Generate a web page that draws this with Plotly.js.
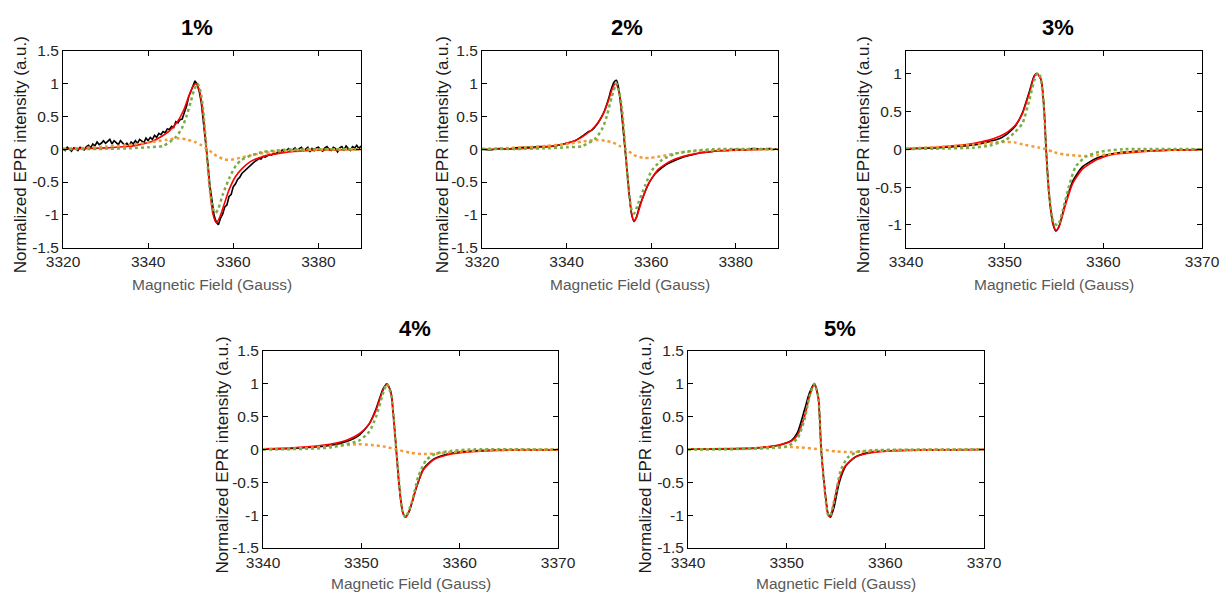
<!DOCTYPE html>
<html>
<head>
<meta charset="utf-8">
<script src="https://cdn.plot.ly/plotly-3.0.1.min.js"></script>
<style>html,body{margin:0;padding:0;background:#fff;}#chart{width:1221px;height:592px;}</style>
</head>
<body>
<div id="chart"></div>
<script>
// ---------- DATA ----------
const panelTitles = ['1%', '2%', '3%', '4%', '5%'];
const yTickVals = [-1.5, -1, -0.5, 0, 0.5, 1, 1.5];
const yTickText = ['-1.5', '-1', '-0.5', '0', '0.5', '1', '1.5'];
const xTickValsWide = [3320, 3340, 3360, 3380];
const xTickValsNarrow = [3340, 3350, 3360, 3370];
const xTitle = 'Magnetic Field (Gauss)';
const yTitle = 'Normalized EPR intensity (a.u.)';

// Panel 1 (1%) experimental, sampled every 0.5 G from 3320 G
const p1BlackStart = 3320, p1BlackStep = 0.5;
const p1BlackY = [
  0.01,-0.02,0.03,0.00,-0.03,0.02,0.01,-0.02,0.03,0.01,
  -0.01,0.04,0.06,0.02,0.08,0.05,0.11,0.07,0.09,0.13,
  0.09,0.12,0.15,0.08,0.13,0.10,0.07,0.13,0.10,0.06,
  0.09,0.05,0.11,0.08,0.13,0.09,0.15,0.12,0.10,0.17,
  0.13,0.18,0.15,0.21,0.18,0.24,0.22,0.27,0.25,0.31,
  0.30,0.35,0.33,0.42,0.40,0.45,0.46,0.56,0.65,0.79,
  0.87,0.97,1.04,0.99,0.88,0.70,0.42,0.10,-0.20,-0.55,
  -0.82,-1.01,-1.11,-1.15,-1.05,-0.99,-0.88,-0.85,-0.72,-0.69,
  -0.57,-0.53,-0.46,-0.43,-0.37,-0.34,-0.30,-0.27,-0.24,-0.22,
  -0.19,-0.17,-0.14,-0.15,-0.11,-0.12,-0.10,-0.08,-0.09,-0.06,
  -0.07,-0.04,-0.05,-0.01,-0.04,-0.02,0.01,-0.03,-0.01,0.02,
  -0.03,0.01,0.03,-0.02,0.00,0.03,-0.04,0.01,-0.02,0.02,
  0.03,-0.01,-0.03,0.02,0.04,0.00,-0.02,0.03,0.01,-0.04,
  0.02,0.04,-0.01,0.05,0.01,-0.02,0.04,0.02,0.06,0.01,
  0.05];
const p1RedX = [3320,3325,3330,3335,3338,3341,3343,3345,3347,3348.5,3349.5,3350.5,3351.3,3352,3352.8,3353.7,3354.4,3355.2,3356,3356.8,3357.8,3359,3360.5,3362,3364,3367,3371,3375,3380,3390];
const p1RedY = [0.00,0.01,0.02,0.04,0.07,0.12,0.19,0.28,0.43,0.62,0.80,0.95,1.00,0.90,0.60,0.00,-0.55,-0.98,-1.12,-1.04,-0.85,-0.62,-0.42,-0.30,-0.19,-0.11,-0.06,-0.03,-0.015,-0.005];
const p1GreenX = [3320,3330,3336,3340,3343.5,3346.6,3348,3349,3350,3350.8,3351.6,3352.3,3352.9,3353.7,3354.5,3355.2,3355.8,3356.4,3357.6,3359.2,3360.7,3362,3364,3367,3372,3380,3390];
const p1GreenY = [0.0,0.005,0.015,0.03,0.05,0.19,0.33,0.5,0.72,0.9,1.0,0.88,0.62,0.0,-0.62,-0.90,-0.97,-0.92,-0.68,-0.42,-0.24,-0.16,-0.10,-0.04,-0.01,0,0];
const p1OrangeX = [3320,3325,3330,3335,3340,3344,3347,3349,3351,3352.5,3354,3356,3358,3359.5,3361,3363,3366,3370,3375,3380,3390];
const p1OrangeY = [0.01,0.02,0.04,0.06,0.10,0.14,0.165,0.15,0.11,0.06,0.0,-0.10,-0.155,-0.16,-0.14,-0.11,-0.07,-0.035,-0.015,-0.005,0];

// Panel 2 (2%)
const p2BlackX = [3320,3322,3324,3326,3328,3330,3332,3334,3336,3338,3340,3342,3344,3345,3346,3347,3348,3349,3349.8,3350.5,3351.2,3351.8,3352.4,3353,3353.6,3354.2,3354.8,3355.4,3356,3356.6,3357.3,3358,3359,3360,3361,3362,3363,3364,3366,3368,3370,3372,3374,3376,3378,3380,3382,3384,3386,3388,3390];
const p2BlackY = [0.0,-0.01,0.01,0.0,0.02,0.03,0.03,0.04,0.04,0.06,0.09,0.13,0.21,0.26,0.29,0.36,0.46,0.59,0.74,0.90,1.02,1.05,0.90,0.55,0.15,-0.25,-0.68,-1.0,-1.1,-1.02,-0.86,-0.74,-0.58,-0.46,-0.37,-0.31,-0.26,-0.22,-0.16,-0.11,-0.08,-0.05,-0.04,-0.02,-0.02,0.0,-0.01,0.01,0.0,0.01,0.0];
const p2RedX = [3320,3328,3334,3338,3340,3342,3344,3346,3347.5,3349,3350,3350.8,3351.6,3352.3,3353.1,3353.9,3354.7,3355.4,3355.9,3356.6,3357.8,3359.4,3361.8,3364.9,3368.9,3375,3383,3390];
const p2RedY = [0,0.005,0.03,0.06,0.09,0.13,0.20,0.30,0.41,0.58,0.76,0.92,1.0,0.90,0.55,-0.01,-0.62,-0.98,-1.1,-1.03,-0.78,-0.52,-0.30,-0.17,-0.09,-0.03,-0.01,0];
const p2GreenX = [3320,3330,3336,3340,3343.6,3346.8,3348.5,3349.5,3350.7,3351.8,3352.5,3353.1,3353.9,3354.7,3355.4,3356,3356.9,3358.6,3360.2,3362.6,3365.7,3368.9,3375,3390];
const p2GreenY = [0,0.005,0.015,0.03,0.045,0.16,0.32,0.5,0.8,1.0,0.85,0.62,0,-0.62,-0.93,-0.98,-0.83,-0.55,-0.32,-0.16,-0.07,-0.03,0,0];
const p2OrangeX = [3320,3325,3330,3335,3340,3344,3347,3349,3351,3352.5,3354,3356,3358,3359.5,3361,3363,3366,3370,3375,3380,3390];
const p2OrangeY = [0.005,0.015,0.03,0.05,0.08,0.12,0.14,0.13,0.1,0.05,0,-0.09,-0.13,-0.135,-0.12,-0.1,-0.06,-0.03,-0.012,-0.004,0];

// Panel 3 (3%)
const p3BlackX = [3340,3343.4,3346.8,3348.4,3349.5,3350.1,3350.6,3351.1,3351.8,3352.5,3353,3353.3,3353.7,3354,3354.2,3354.5,3354.9,3355.2,3355.5,3356.2,3356.9,3357.9,3359.3,3360.9,3363.6,3367,3370];
const p3BlackY = [0.005,0.02,0.055,0.1,0.14,0.185,0.24,0.31,0.48,0.76,0.97,1.0,0.91,0.52,0.0,-0.6,-0.99,-1.08,-1.02,-0.69,-0.42,-0.23,-0.12,-0.06,-0.025,-0.01,-0.003];
const p3RedX = [3340,3343.4,3346.8,3348.4,3349.5,3350.1,3350.6,3351.1,3351.8,3352.5,3353,3353.3,3353.7,3354,3354.2,3354.5,3354.9,3355.2,3355.5,3356.2,3356.9,3357.9,3359.3,3360.9,3363.6,3367,3370];
const p3RedY = [0.01,0.03,0.075,0.12,0.17,0.21,0.26,0.32,0.47,0.74,0.96,1.0,0.91,0.52,0.0,-0.59,-0.98,-1.07,-1.03,-0.72,-0.45,-0.26,-0.14,-0.07,-0.035,-0.013,-0.005];
const p3GreenX = [3340,3343.4,3346.8,3348.5,3350.1,3351,3351.8,3352.5,3353.2,3353.5,3353.9,3354.2,3354.5,3355,3355.4,3355.9,3356.6,3357.2,3358.2,3359.6,3362,3370];
const p3GreenY = [0.003,0.008,0.02,0.05,0.12,0.22,0.34,0.65,0.98,1.0,0.69,0,-0.59,-0.98,-1.0,-0.8,-0.45,-0.23,-0.1,-0.035,0,0];
const p3OrangeX = [3340,3343.4,3346.8,3349,3350,3351,3351.8,3353.5,3354.2,3355,3356,3357.2,3358.2,3359.4,3360.3,3362,3365.3,3370];
const p3OrangeY = [0.01,0.03,0.06,0.09,0.095,0.09,0.065,0.02,0,-0.04,-0.07,-0.085,-0.09,-0.08,-0.07,-0.04,-0.013,0];

// Panel 4 (4%)
const p4BlackX = [3340,3343.4,3346.8,3348.5,3349.8,3350.8,3351.5,3352.2,3352.6,3353,3353.3,3353.55,3353.85,3354.2,3354.5,3354.9,3355.6,3356.3,3357.3,3358.6,3360.3,3363.7,3370];
const p4BlackY = [0.005,0.02,0.06,0.12,0.22,0.39,0.62,0.92,1.0,0.88,0.45,0,-0.55,-0.95,-1.03,-0.93,-0.58,-0.30,-0.15,-0.075,-0.035,-0.01,-0.003];
const p4RedX = [3340,3343.4,3346.8,3348.5,3349.8,3350.8,3351.5,3352.2,3352.6,3353,3353.3,3353.55,3353.85,3354.2,3354.5,3354.9,3355.6,3356.3,3357.3,3358.6,3360.3,3363.7,3370];
const p4RedY = [0.01,0.03,0.08,0.14,0.24,0.39,0.6,0.9,1.0,0.88,0.45,0,-0.55,-0.95,-1.03,-0.92,-0.57,-0.31,-0.16,-0.086,-0.045,-0.015,-0.005];
const p4GreenX = [3340,3346.8,3349.8,3350.8,3351.5,3352.2,3352.6,3353.05,3353.55,3354.2,3354.5,3355.1,3355.8,3356.6,3357.6,3359,3361,3370];
const p4GreenY = [0.0,0.03,0.14,0.27,0.5,0.85,1.0,0.82,0,-0.95,-1.03,-0.82,-0.41,-0.16,-0.06,-0.025,0,0];
const p4OrangeX = [3340,3344,3347,3349.5,3351,3352.5,3353.6,3355,3356.4,3358,3360,3363,3370];
const p4OrangeY = [0.005,0.02,0.05,0.08,0.07,0.04,0,-0.05,-0.07,-0.055,-0.03,-0.01,0];

// Panel 5 (5%)
const p5BlackX = [3340,3346.8,3349.1,3350.5,3351.1,3351.8,3352.3,3352.8,3353.2,3353.5,3353.9,3354.2,3354.45,3354.8,3355.3,3356,3357,3358.6,3360.9,3370];
const p5BlackY = [0.003,0.02,0.06,0.14,0.26,0.6,0.86,1.0,0.8,0,-0.65,-0.98,-1.03,-0.88,-0.52,-0.25,-0.11,-0.04,-0.015,0];
const p5RedX = [3340,3346.8,3349.1,3350.5,3351.1,3351.8,3352.3,3352.8,3353.2,3353.5,3353.9,3354.2,3354.4,3354.7,3355.2,3355.9,3356.9,3358.6,3360.9,3370];
const p5RedY = [0.005,0.025,0.065,0.13,0.22,0.5,0.8,1.0,0.8,0,-0.67,-1.0,-1.02,-0.87,-0.52,-0.26,-0.12,-0.05,-0.02,0];
const p5GreenX = [3340,3346,3350.1,3351.1,3351.8,3352.3,3352.8,3353.2,3353.5,3354.2,3354.4,3354.9,3355.5,3356.2,3357.2,3358.9,3370];
const p5GreenY = [0,0.01,0.05,0.17,0.45,0.8,1.0,0.8,0,-1.0,-1.02,-0.72,-0.31,-0.12,-0.035,-0.01,0];
const p5OrangeX = [3340,3345,3348,3350,3351.5,3353.5,3355,3356.4,3358,3361,3370];
const p5OrangeY = [0.003,0.01,0.03,0.04,0.03,0,-0.03,-0.04,-0.03,-0.01,0];

// ---------- LAYOUT (pixel geometry) ----------
const W = 1221, H = 592;
const panels = [
  {l: 63,  r: 361,  t: 50.7, b: 247.7, tx: 197,  ty: 27,  ytx: 20,  xty: 284, xr: [3320, 3390], xt: xTickValsWide,   yr: [-1.5, 1.5]},
  {l: 482, r: 778,  t: 50.7, b: 247.7, tx: 627,  ty: 27,  ytx: 442, xty: 284, xr: [3320, 3390], xt: xTickValsWide,   yr: [-1.5, 1.5]},
  {l: 906, r: 1202, t: 50.7, b: 247.7, tx: 1058, ty: 27,  ytx: 863, xty: 284, xr: [3340, 3370], xt: xTickValsNarrow, yr: [-1.3, 1.3]},
  {l: 263, r: 558,  t: 351,  b: 548,   tx: 415,  ty: 328, ytx: 222, xty: 583, xr: [3340, 3370], xt: xTickValsNarrow, yr: [-1.5, 1.5]},
  {l: 688, r: 984,  t: 351,  b: 548,   tx: 840,  ty: 328, ytx: 645, xty: 583, xr: [3340, 3370], xt: xTickValsNarrow, yr: [-1.5, 1.5]}
];

const series = [
  {black: {x0: p1BlackStart, dx: p1BlackStep, y: p1BlackY}, red: [p1RedX, p1RedY], green: [p1GreenX, p1GreenY], orange: [p1OrangeX, p1OrangeY]},
  {black: {x: p2BlackX, y: p2BlackY}, red: [p2RedX, p2RedY], green: [p2GreenX, p2GreenY], orange: [p2OrangeX, p2OrangeY]},
  {black: {x: p3BlackX, y: p3BlackY}, red: [p3RedX, p3RedY], green: [p3GreenX, p3GreenY], orange: [p3OrangeX, p3OrangeY]},
  {black: {x: p4BlackX, y: p4BlackY}, red: [p4RedX, p4RedY], green: [p4GreenX, p4GreenY], orange: [p4OrangeX, p4OrangeY]},
  {black: {x: p5BlackX, y: p5BlackY}, red: [p5RedX, p5RedY], green: [p5GreenX, p5GreenY], orange: [p5OrangeX, p5OrangeY]}
];

const FONT = '"Liberation Sans", Arial, sans-serif';
const traces = [];
const layout = {
  width: W, height: H,
  margin: {l: 0, r: 0, t: 0, b: 0, pad: 0},
  paper_bgcolor: '#ffffff', plot_bgcolor: '#ffffff',
  showlegend: false,
  font: {family: FONT, color: '#262626'},
  annotations: []
};

panels.forEach((p, i) => {
  const n = i === 0 ? '' : String(i + 1);
  const xa = 'x' + n, ya = 'y' + n;
  const s = series[i];
  const smooth = (i === 0) ? 'linear' : 'spline';
  const blk = Object.assign({type: 'scatter', mode: 'lines', xaxis: xa, yaxis: ya,
    line: {color: '#000000', width: 1.6, shape: smooth, smoothing: 0.6}, hoverinfo: 'skip'}, s.black);
  traces.push(blk);
  traces.push({type: 'scatter', mode: 'lines', x: s.red[0], y: s.red[1], xaxis: xa, yaxis: ya,
    line: {color: '#ff0000', width: 1.6, shape: 'spline', smoothing: 0.6}, hoverinfo: 'skip'});
  traces.push({type: 'scatter', mode: 'lines', x: s.orange[0], y: s.orange[1], xaxis: xa, yaxis: ya,
    line: {color: '#f39b36', width: 2.5, dash: 'dot', shape: 'spline', smoothing: 0.6}, hoverinfo: 'skip'});
  traces.push({type: 'scatter', mode: 'lines', x: s.green[0], y: s.green[1], xaxis: xa, yaxis: ya,
    line: {color: '#79ae45', width: 2.5, dash: 'dot', shape: 'spline', smoothing: 0.6}, hoverinfo: 'skip'});

  const common = {showline: true, linecolor: '#000000', linewidth: 1, mirror: 'ticks',
    ticks: 'inside', ticklen: 5, tickwidth: 1, tickcolor: '#000000', showgrid: false, zeroline: false,
    tickfont: {family: FONT, size: 15.5, color: '#262626'}, fixedrange: true};
  layout['xaxis' + n] = Object.assign({}, common, {
    domain: [p.l / W, p.r / W], anchor: ya, range: p.xr, tickmode: 'array', tickvals: p.xt,
    ticktext: p.xt.map(String)
  });
  layout['yaxis' + n] = Object.assign({}, common, {
    domain: [1 - p.b / H, 1 - p.t / H], anchor: xa, range: p.yr, tickmode: 'array',
    tickvals: yTickVals, ticktext: yTickText
  });

  layout.annotations.push({text: '<b>' + panelTitles[i] + '</b>', xref: 'paper', yref: 'paper',
    x: p.tx / W, y: 1 - p.ty / H, xanchor: 'center', yanchor: 'middle', showarrow: false,
    font: {family: FONT, size: 22, color: '#000000'}});
  layout.annotations.push({text: yTitle, xref: 'paper', yref: 'paper',
    x: p.ytx / W, y: 1 - ((p.t + p.b) / 2 + 6) / H, xanchor: 'center', yanchor: 'middle', textangle: -90,
    showarrow: false, font: {family: FONT, size: 17, color: '#1a1a1a'}});
  layout.annotations.push({text: xTitle, xref: 'paper', yref: 'paper',
    x: ((p.l + p.r) / 2) / W, y: 1 - p.xty / H, xanchor: 'center', yanchor: 'middle',
    showarrow: false, font: {family: FONT, size: 15.5, color: '#595959'}});
});

Plotly.newPlot('chart', traces, layout, {staticPlot: true, displayModeBar: false});
</script>
</body>
</html>
